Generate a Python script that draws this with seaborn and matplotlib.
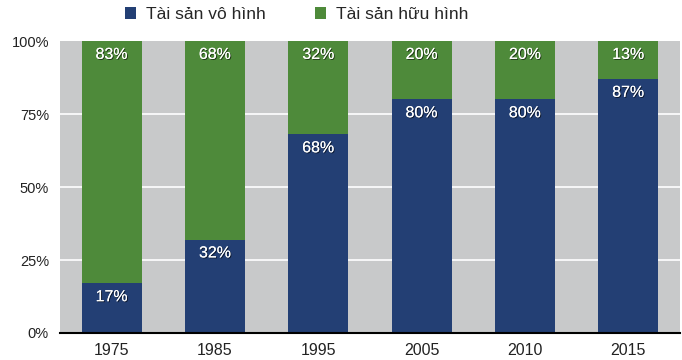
import matplotlib
matplotlib.use("Agg")
import matplotlib.pyplot as plt
import matplotlib.patheffects as pe
from matplotlib.patches import Patch
import seaborn as sns
import pandas as pd

years = ["1975", "1985", "1995", "2005", "2010", "2015"]
intangible = [17, 32, 68, 80, 80, 87]
tangible = [83, 68, 32, 20, 20, 13]
series_names = ["Tài sản vô hình", "Tài sản hữu hình"]
yticks = [0, 25, 50, 75, 100]
ytick_labels = ["0%", "25%", "50%", "75%", "100%"]

blue = "#233f74"
green = "#4e8a3a"
gray = "#c8c9ca"

df = pd.DataFrame({"year": years, "intangible": intangible, "tangible": tangible})
df["total"] = df["intangible"] + df["tangible"]

sns.set_style("white")
plt.rcParams['font.family'] = ['Liberation Sans', 'DejaVu Sans']

fig = plt.figure(figsize=(6.82, 3.6), dpi=100)
ax = fig.add_axes([0.088, 0.075, 0.909, 0.811])
ax.set_facecolor(gray)

sns.barplot(data=df, x="year", y="total", color=green, width=0.58, ax=ax,
            saturation=1, zorder=3, linewidth=0, edgecolor="none")
sns.barplot(data=df, x="year", y="intangible", color=blue, width=0.58, ax=ax,
            saturation=1, zorder=3, linewidth=0, edgecolor="none")

ax.set_ylim(0, 100)
ax.set_xlim(-0.5, len(years) - 0.5)
ax.set_yticks(yticks)
ax.set_yticklabels(ytick_labels)
for y in yticks[1:-1]:
    ax.axhline(y, color="white", lw=1.2, zorder=1)
for s in ["top", "right", "left"]:
    ax.spines[s].set_visible(False)
ax.spines["bottom"].set_color("black")
ax.spines["bottom"].set_linewidth(1.5)
ax.spines["bottom"].set_zorder(5)
ax.set_xlabel("")
ax.set_ylabel("")
ax.tick_params(axis="y", length=0, labelsize=10.5, colors="#222222", pad=8)
ax.tick_params(axis="x", length=0, labelsize=11.5, colors="#222222", pad=7)

shadow = [pe.withSimplePatchShadow(offset=(0.7, -0.7), shadow_rgbFace="black", alpha=0.6), pe.Normal()]
for i, (a, b) in enumerate(zip(intangible, tangible)):
    ax.text(i, a - 2, f"{a}%", ha="center", va="top", color="white", fontsize=11.5,
            path_effects=shadow, zorder=6)
    ax.text(i, a + b - 2, f"{b}%", ha="center", va="top", color="white", fontsize=11.5,
            path_effects=shadow, zorder=6)

handles = [Patch(facecolor=blue, edgecolor="none"), Patch(facecolor=green, edgecolor="none")]
fig.legend(handles, series_names, loc="upper left", bbox_to_anchor=(0.175, 0.995), ncol=2,
           frameon=False, fontsize=12.5, handlelength=0.65, handleheight=0.65,
           columnspacing=2.8, handletextpad=0.6, borderpad=0.3, borderaxespad=0)

fig.savefig("out.png", dpi=100)
